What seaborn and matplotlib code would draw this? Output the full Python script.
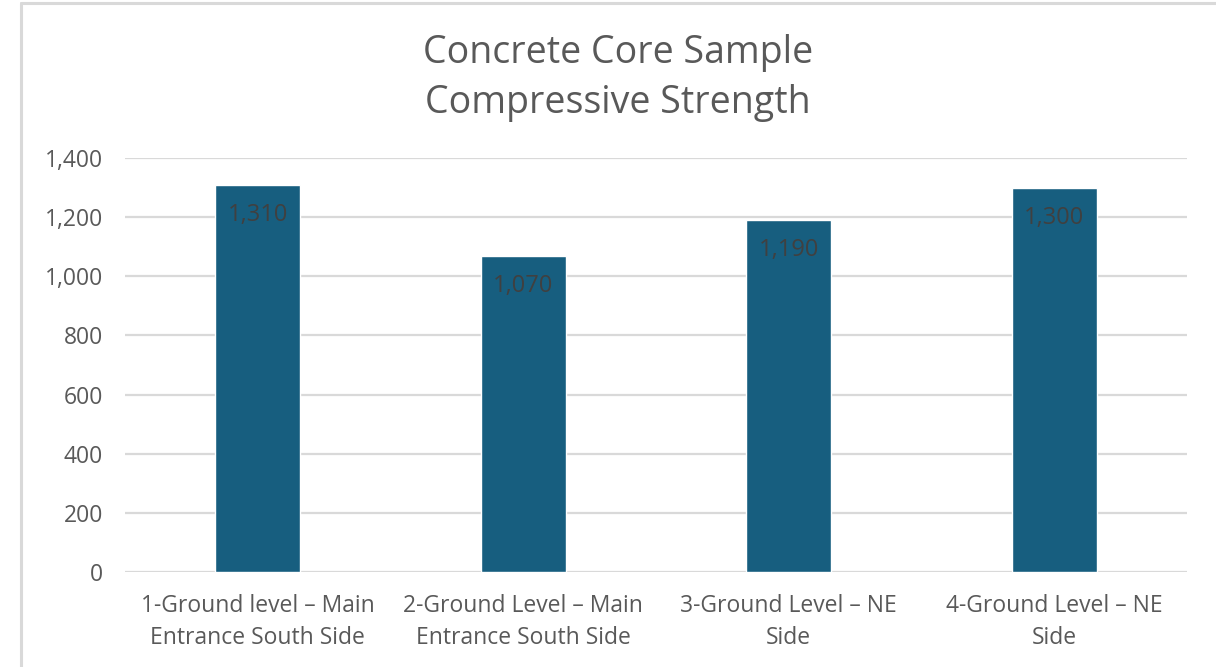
import matplotlib
matplotlib.use("Agg")
import matplotlib.pyplot as plt
import seaborn as sns
import pandas as pd
from matplotlib.lines import Line2D

categories = [
    "1-Ground level \u2013 Main\nEntrance South Side",
    "2-Ground Level \u2013 Main\nEntrance South Side",
    "3-Ground Level \u2013 NE\nSide",
    "4-Ground Level \u2013 NE\nSide",
]
values = [1310, 1070, 1190, 1300]
yticks = [0, 200, 400, 600, 800, 1000, 1200, 1400]
title = "Concrete Core Sample\nCompressive Strength"

sns.set_theme(style="white")
plt.rcParams["font.family"] = ["Open Sans", "DejaVu Sans"]

df = pd.DataFrame({"cat": categories, "val": values})

fig = plt.figure(figsize=(12.16, 6.67), dpi=100)
ax = fig.add_axes([125/1216, 1-572/667, (1187-125)/1216, (572-158)/667])

sns.barplot(data=df, x="cat", y="val", color="#175e7f", width=0.32, ax=ax,
            saturation=1, zorder=3)

ax.set_ylim(0, 1400)
ax.set_xlim(-0.5, 3.5)
ax.set_yticks(yticks)
ax.set_yticklabels([f"{v:,}" for v in yticks])
ax.yaxis.grid(True, color="#d9d9d9", linewidth=1.6, zorder=0)
ax.set_axisbelow(True)
for s in ax.spines.values():
    s.set_visible(False)
ax.set_xlabel("")
ax.set_ylabel("")
ax.tick_params(axis="both", length=0, labelsize=16.5, colors="#595959")
ax.tick_params(axis="y", pad=16)
ax.tick_params(axis="x", pad=16)
for lab in ax.get_xticklabels():
    lab.set_linespacing(1.45)

for i, v in enumerate(values):
    ax.annotate(f"{v:,}", xy=(i, v), xytext=(0, -30), textcoords="offset pixels",
                ha="center", va="center", fontsize=17, color="#404040", zorder=4)

fig.text(618/1216, 1-78/667, title, ha="center", va="center", fontsize=27,
         color="#595959", linespacing=1.4)

# chart border
fig.add_artist(Line2D([21/1216, 21/1216], [0, 1-3/667], transform=fig.transFigure,
                      color="#d9d9d9", linewidth=2.2))
fig.add_artist(Line2D([21/1216, 1], [1-3/667, 1-3/667], transform=fig.transFigure,
                      color="#d9d9d9", linewidth=2.2))

fig.savefig("out.png", dpi=100)
